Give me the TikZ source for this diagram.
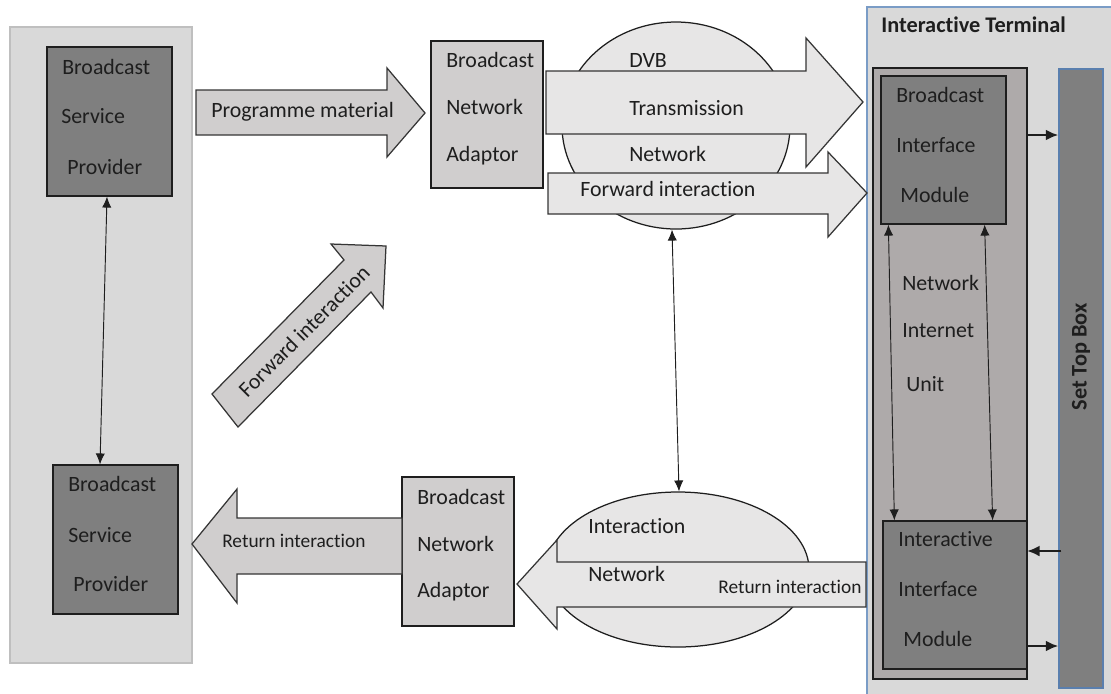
\documentclass[tikz,border=0pt]{standalone}
\usepackage{fontspec}
\setmainfont[Ligatures=NoCommon]{Carlito}
\usetikzlibrary{shapes.geometric,fit,calc,arrows.meta}
\definecolor{panel}{HTML}{D9D9D9}
\definecolor{panelline}{HTML}{BFBFBF}
\definecolor{dark}{HTML}{7F7F7F}
\definecolor{mid}{HTML}{D0CECE}
\definecolor{light}{HTML}{E7E6E6}
\definecolor{niufill}{HTML}{AEAAAA}
\definecolor{termline}{HTML}{7A9CC6}
\definecolor{stbline}{HTML}{5A7FAE}
\definecolor{ink}{HTML}{1E1E1E}

\begin{document}
\begin{tikzpicture}[x=0.0225cm,y=-0.0225cm,
  box/.style={draw=ink,line width=0.8pt,inner sep=0pt},
  txt/.style={anchor=west,inner sep=0pt,text=ink,font=\fontsize{14}{16}\selectfont,
    text height=1.5ex,text depth=0.25ex},
  smalltxt/.style={txt,font=\fontsize{12.4}{14}\selectfont},
  boldtxt/.style={txt,font=\bfseries\fontsize{14.3}{16}\selectfont},
  barrow/.style={draw=ink!90,line width=0.8pt,line join=miter},
  dbl/.style={{Latex[length=7pt,width=6pt]}-{Latex[length=7pt,width=6pt]},line width=0.6pt,draw=ink},
  fat/.style={-{Latex[length=8pt,width=7pt]},line width=1.6pt,draw=ink}]
  \useasboundingbox (0,0) rectangle (1111,693);
  \clip (0,0) rectangle (1111,693);

  % background panels
  \node[fit={(10,27) (192,663)},inner sep=0pt,draw=panelline,fill=panel,line width=1pt] (provside) {};
  \node[fit={(867,7) (1125,705)},inner sep=0pt,draw=termline,fill=panel,line width=1pt] (terminal) {};
  \node[boldtxt] (termtitle) at (881,28) {Interactive Terminal};

  % service providers
  \node[box,fill=dark,fit={(47,47) (172,196)}] (bsp1) {};
  \node[box,fill=dark,fit={(53,465) (178,614)}] (bsp2) {};
  \foreach \t/\x/\y [count=\i] in {Broadcast/62/70,Service/61/119,Provider/67/170}
    \node[txt] (bspa\i) at (\x,\y) {\t};
  \foreach \t/\x/\y [count=\i] in {Broadcast/68/487,Service/68/538,Provider/73/587}
    \node[txt] (bspb\i) at (\x,\y) {\t};
  \draw[dbl] ($(bsp1.south)+(-2.5,0)$) -- ($(bsp2.north)+(-15.5,0)$);

  % network adaptors
  \node[box,fill=mid,fit={(431,41) (543,188)}] (bna1) {};
  \node[box,fill=mid,fit={(402,477) (514,626)}] (bna2) {};
  \foreach \t/\y [count=\i] in {Broadcast/63,Network/110,Adaptor/157}
    \node[txt] (bnaa\i) at (446,\y) {\t};
  \foreach \t/\y [count=\i] in {Broadcast/500,Network/547,Adaptor/593}
    \node[txt] (bnab\i) at (417,\y) {\t};

  % networks
  \node[ellipse,draw=ink,fill=light,line width=0.8pt,inner sep=0pt,
    minimum width=228*0.0225cm,minimum height=207*0.0225cm] (dvb) at (676,125.5) {};
  \node[ellipse,draw=ink,fill=light,line width=0.8pt,inner sep=0pt,
    minimum width=262*0.0225cm,minimum height=155*0.0225cm] (inet) at (678,569.5) {};
  \draw[dbl] ($(dvb.south)+(-4,0)$) -- ($(inet.north)+(1,0)$);

  % block arrows
  \draw[barrow,fill=mid] (196,90) -- (387,90) -- (387,68) -- (425,113) -- (387,157) -- (387,135) -- (196,135) -- cycle;
  \draw[barrow,fill=light] (546,71) -- (806,71) -- (806,38) -- (863,102) -- (806,167) -- (806,134) -- (546,134) -- cycle;
  \draw[barrow,fill=light] (548,173) -- (828,173) -- (828,152) -- (867,193) -- (828,237) -- (828,214) -- (548,214) -- cycle;
  \draw[barrow,fill=mid] (238,427) -- (212,394) -- (344,260) -- (331,244) -- (386,246) -- (383,308) -- (371,292) -- cycle;
  \draw[barrow,fill=mid] (192,544) -- (237,489) -- (237,518) -- (402,518) -- (402,574) -- (237,574) -- (237,603) -- cycle;
  \draw[barrow,fill=light] (517,584) -- (557,540) -- (557,562) -- (866,562) -- (866,607) -- (557,607) -- (557,629) -- cycle;

  \node[txt] (progmat) at (211,113) {Programme material};
  \node[txt] (fwdint) at (580,192) {Forward interaction};
  \node[txt,anchor=center,rotate=45] (fwddiag) at (306,333) {Forward interaction};
  \node[smalltxt] (retleft) at (222,543) {Return interaction};
  \node[smalltxt] (retright) at (718,589) {Return interaction};
  \foreach \t/\y [count=\i] in {DVB/63,Transmission/111,Network/157}
    \node[txt] (dvbt\i) at (629,\y) {\t};
  \node[txt] (inett1) at (588,529) {Interaction};
  \node[txt] (inett2) at (588,577) {Network};

  % interactive terminal
  \node[box,fill=niufill,fit={(873,68) (1027,679)}] (niu) {};
  \node[box,fill=dark,fit={(881,76) (1006,224)}] (bim) {};
  \node[box,fill=dark,fit={(883,521) (1027,669)}] (iim) {};
  \node[fit={(1059,69) (1103,688)},inner sep=0pt,draw=stbline,fill=dark,line width=0.8pt] (stb) {};
  \node[boldtxt,anchor=center,rotate=90] (stbtext) at (1082,357) {Set Top Box};
  \foreach \t/\x/\y [count=\i] in {Broadcast/896/98,Interface/896/148,Module/900/198}
    \node[txt] (bimt\i) at (\x,\y) {\t};
  \foreach \t/\x/\y [count=\i] in {Interactive/898/542,Interface/898/592,Module/903/642}
    \node[txt] (iimt\i) at (\x,\y) {\t};
  \foreach \t/\x/\y [count=\i] in {Network/902/286,Internet/902/333,Unit/906/387}
    \node[txt] (niut\i) at (\x,\y) {\t};
  \draw[dbl] ($(bim.south west)+(8,0)$) -- ($(iim.north west)+(12,0)$);
  \draw[dbl] ($(bim.south east)+(-22,0)$) -- ($(iim.north east)+(-35,0)$);

  \coordinate (bimout) at (1027,135);
  \coordinate (iimin) at (1027,551);
  \coordinate (iimout) at (1027,646);
  \draw[fat] (bimout) -- (bimout -| stb.west);
  \draw[fat] ($(iimin -| stb.west)+(3,0)$) -- (iimin);
  \draw[fat] (iimout) -- (iimout -| stb.west);
\end{tikzpicture}
\end{document}
